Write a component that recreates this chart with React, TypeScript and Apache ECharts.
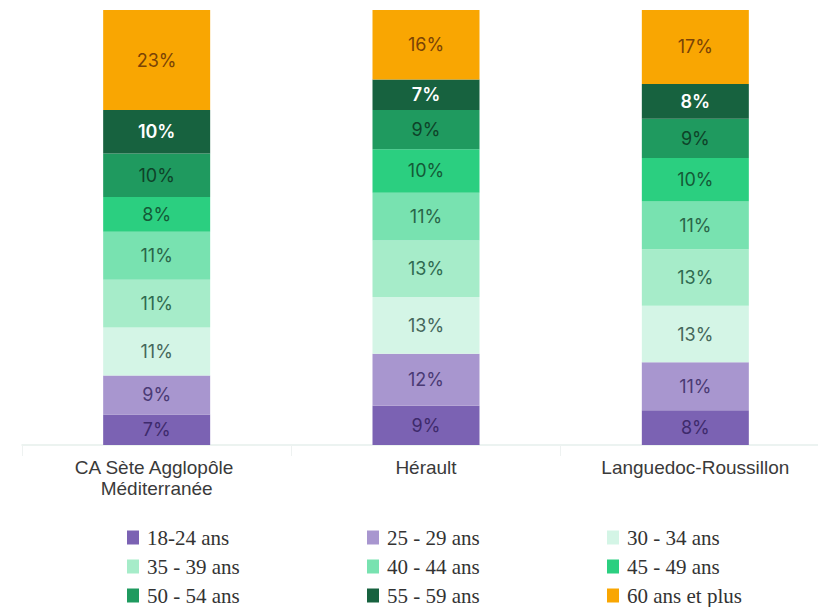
import React, { useEffect, useRef } from "react";
import * as echarts from "echarts";

// Age groups, bottom of the stack first
const ageGroups = [
  "18-24 ans",
  "25 - 29 ans",
  "30 - 34 ans",
  "35 - 39 ans",
  "40 - 44 ans",
  "45 - 49 ans",
  "50 - 54 ans",
  "55 - 59 ans",
  "60 ans et plus",
];

const territories = ["CA Sète Agglopôle Méditerranée", "Hérault", "Languedoc-Roussillon"];

// Share of each age group (%), same order as ageGroups
const seteAgglopole = [7, 9, 11, 11, 11, 8, 10, 10, 23];
const herault = [9, 12, 13, 13, 11, 10, 9, 7, 16];
const languedocRoussillon = [8, 11, 13, 13, 11, 10, 9, 8, 17];

const fillColors = [
  "#7b62b3",
  "#a896cf",
  "#d4f5e6",
  "#a6ecc9",
  "#78e2b0",
  "#2bcf80",
  "#1f9a5f",
  "#17623f",
  "#f9a602",
];

const labelColors = [
  "#3e2a6c",
  "#4a3a74",
  "#45675b",
  "#2f6a50",
  "#2a6549",
  "#145a37",
  "#0e4229",
  "#ffffff",
  "#7a4306",
];

export default function App() {
  const ref = useRef<HTMLDivElement>(null);

  useEffect(() => {
    document.body.style.margin = "0";
    if (!ref.current) return;
    const chart = echarts.init(ref.current, undefined, { renderer: "svg" });

    const rows = [seteAgglopole, herault, languedocRoussillon];

    const series = ageGroups.map((name, i) => ({
      name,
      type: "bar" as const,
      stack: "total",
      barWidth: 107,
      data: rows.map((r) => r[i]),
      itemStyle: { color: fillColors[i] },
      label: {
        show: true,
        position: "inside" as const,
        formatter: "{c}%",
        fontFamily: "Inter, 'Noto Sans', sans-serif",
        fontSize: 18,
        fontWeight: i === 7 ? 600 : 400,
        color: labelColors[i],
      },
      emphasis: { disabled: true },
    }));

    const legendLeft = [127, 367, 607];
    const legendTop = [527, 556, 585];
    const legends = ageGroups.map((name, i) => ({
      data: [name],
      left: legendLeft[i % 3],
      top: legendTop[Math.floor(i / 3)],
      icon: "rect",
      itemWidth: 12,
      itemHeight: 14,
      padding: 0,
      selectedMode: false,
      textStyle: {
        fontFamily: "'Liberation Serif', 'DejaVu Serif', serif",
        fontSize: 21,
        lineHeight: 20,
        color: "#333333",
        padding: [0, 0, 0, 3],
      },
    }));

    chart.setOption({
      animation: false,
      backgroundColor: "#ffffff",
      grid: {
        left: 22,
        width: 808,
        top: 10,
        bottom: 162,
        containLabel: false,
        outerBoundsMode: "none",
      },
      xAxis: {
        type: "category",
        data: territories,
        axisLine: { lineStyle: { color: "#e6efec", width: 1.5 } },
        axisTick: { show: true, length: 11, lineStyle: { color: "#eef2f1" } },
        axisLabel: {
          margin: 12,
          fontFamily: "'Liberation Sans', Arial, sans-serif",
          fontSize: 19,
          lineHeight: 21,
          color: "#3a3a3a",
          width: 220,
          overflow: "break",
          interval: 0,
        },
      },
      yAxis: { type: "value", min: 0, max: 100, show: false },
      legend: legends,
      series,
    });

    return () => chart.dispose();
  }, []);

  return <div ref={ref} style={{ width: 818, height: 607 }} />;
}
